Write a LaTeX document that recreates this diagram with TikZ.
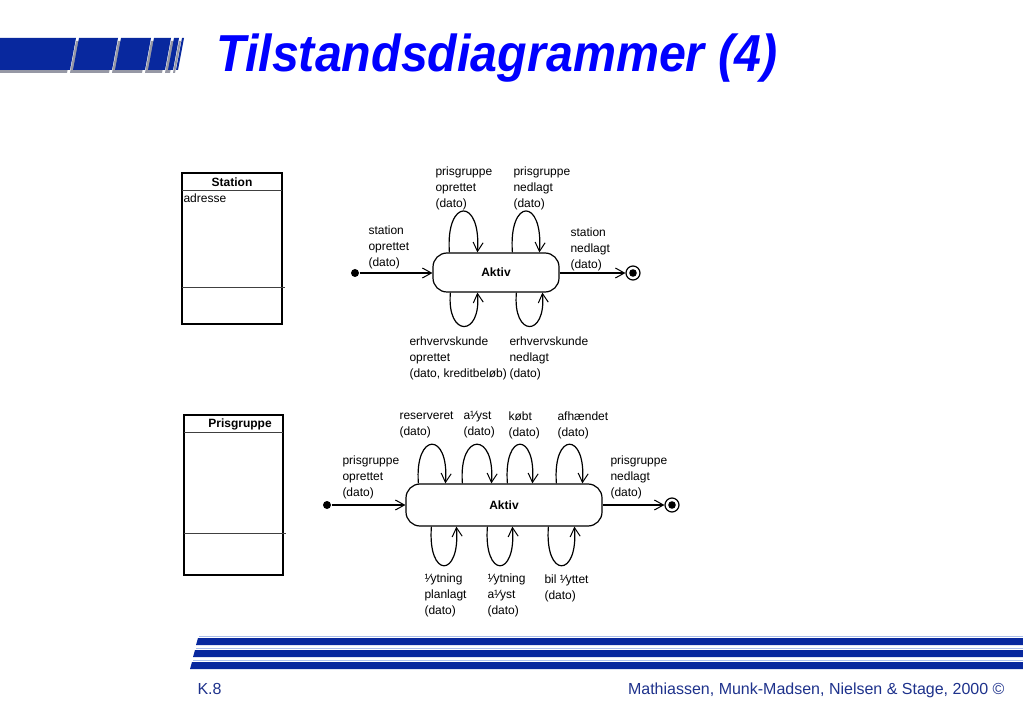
\documentclass[tikz,border=0pt]{standalone}
\usepackage{fontspec}
\setmainfont{Liberation Sans}
\usetikzlibrary{arrows.meta}
\definecolor{barblue}{RGB}{8,40,158}
\definecolor{barshadow}{RGB}{150,152,165}
\definecolor{barlight}{RGB}{170,190,235}
\definecolor{titleblue}{RGB}{0,0,255}
\definecolor{footblue}{RGB}{30,50,140}

\begin{document}
\begin{tikzpicture}[x=1pt, y=-1pt, line width=1pt]

\tikzstyle{every node} = [inner sep=0pt]
\tikzstyle{lbl} = [anchor=west, align=left, font=\fontsize{12}{16}\selectfont]
\tikzstyle{state} = [draw, rounded corners=14pt, line width=1.2pt, font=\fontsize{12}{14}\selectfont\bfseries]
\tikzstyle{initial} = [circle, fill, minimum size=8pt]
\tikzstyle{final} = [circle, draw, line width=1.2pt, minimum size=14pt, path picture={\fill (path picture bounding box.center) circle (3.8pt);}]
\tikzstyle{trans} = [-{Straight Barb[length=9pt, width=10pt, line width=1pt]}, line width=1.2pt]
\tikzstyle{classbox} = [draw, line width=1.6pt]
\tikzstyle{classline} = [draw, line width=0.9pt, black!75]

\fill[white] (0,0) rectangle (1023,708);
\useasboundingbox (0,0) rectangle (1023,708);

% title bars
\fill[barshadow] (-13,73) -- (67,73) -- (73,41) -- (-7,41) -- cycle;
\fill[barshadow] (70,73) -- (109,73) -- (115,41) -- (76,41) -- cycle;
\fill[barshadow] (112,73) -- (142,73) -- (148,41) -- (118,41) -- cycle;
\fill[barshadow] (145,73) -- (162,73) -- (168,41) -- (151,41) -- cycle;
\fill[barshadow] (165,73) -- (170,73) -- (176,41) -- (171,41) -- cycle;
\fill[barshadow] (173,73) -- (175,73) -- (181,41) -- (179,41) -- cycle;
\fill[barblue] (-10,70) -- (70,70) -- (76,38) -- (-4,38) -- cycle;
\fill[barblue] (73,70) -- (112,70) -- (118,38) -- (79,38) -- cycle;
\fill[barblue] (115,70) -- (145,70) -- (151,38) -- (121,38) -- cycle;
\fill[barblue] (148,70) -- (165,70) -- (171,38) -- (154,38) -- cycle;
\fill[barblue] (168,70) -- (173,70) -- (179,38) -- (174,38) -- cycle;
\fill[barblue] (176,70) -- (178,70) -- (184,38) -- (182,38) -- cycle;

\node[anchor=base west, text=titleblue, font=\fontsize{52}{60}\selectfont\bfseries\itshape, xscale=0.93] (title) at (216,72) {Tilstandsdiagrammer (4)};

% classes
\draw[classbox] (182,173) rectangle (282,324);
\draw[classline] (182,190) -- (282,190);
\draw[classline] (182,287) -- (285,287);
\node[font=\fontsize{12}{14}\selectfont\bfseries] (stn) at (232,182) {Station};
\node[anchor=west, font=\fontsize{12}{14}\selectfont] (adr) at (183,198) {adresse};

\draw[classbox] (184,415) rectangle (283,575);
\draw[classline] (184,432) -- (283,432);
\draw[classline] (184,533) -- (286,533);
\node[font=\fontsize{12}{14}\selectfont\bfseries] (pg) at (240,424) {Prisgruppe};

% station
\node[state, minimum width=126pt, minimum height=39pt] (akt1) at (496,272.5) {Aktiv};
\node[initial] (ini1) at (355,273) {};
\node[final] (fin1) at (633,273) {};

\draw[trans] (ini1) -- (ini1 -| akt1.west);
\draw[trans] (akt1.east |- fin1) -- (fin1);

\draw[trans] ([xshift=17pt]akt1.north west) .. controls +(-4,-55) and +(4,-55) .. ([xshift=45pt]akt1.north west);
\draw[trans] ([xshift=80pt]akt1.north west) .. controls +(-4,-55) and +(4,-55) .. ([xshift=107pt]akt1.north west);
\draw[trans] ([xshift=18pt]akt1.south west) .. controls +(-4,45) and +(4,45) .. ([xshift=45pt]akt1.south west);
\draw[trans] ([xshift=84pt]akt1.south west) .. controls +(-4,45) and +(4,45) .. ([xshift=110pt]akt1.south west);

\node[lbl] (l1) at (435,188) {prisgruppe\\oprettet\\(dato)};
\node[lbl] (l2) at (513,188) {prisgruppe\\nedlagt\\(dato)};
\node[lbl] (l3) at (368,247) {station\\oprettet\\(dato)};
\node[lbl] (l4) at (570,249) {station\\nedlagt\\(dato)};
\node[lbl] (l5) at (409,358) {erhvervskunde\\oprettet\\(dato, kreditbeløb)};
\node[lbl] (l6) at (509,358) {erhvervskunde\\nedlagt\\(dato)};

% prisgruppe
\node[state, minimum width=196pt, minimum height=42pt] (akt2) at (504,505) {Aktiv};
\node[initial] (ini2) at (327,505) {};
\node[final] (fin2) at (672,505) {};

\draw[trans] (ini2) -- (ini2 -| akt2.west);
\draw[trans] (akt2.east |- fin2) -- (fin2);

\draw[trans] ([xshift=13pt]akt2.north west) .. controls +(-4,-52) and +(4,-52) .. ([xshift=40pt]akt2.north west);
\draw[trans] ([xshift=57pt]akt2.north west) .. controls +(-4,-52) and +(4,-52) .. ([xshift=86pt]akt2.north west);
\draw[trans] ([xshift=102pt]akt2.north west) .. controls +(-4,-52) and +(4,-52) .. ([xshift=127pt]akt2.north west);
\draw[trans] ([xshift=151pt]akt2.north west) .. controls +(-4,-52) and +(4,-52) .. ([xshift=177pt]akt2.north west);
\draw[trans] ([xshift=26pt]akt2.south west) .. controls +(-4,52) and +(4,52) .. ([xshift=51pt]akt2.south west);
\draw[trans] ([xshift=82pt]akt2.south west) .. controls +(-4,52) and +(4,52) .. ([xshift=107pt]akt2.south west);
\draw[trans] ([xshift=143pt]akt2.south west) .. controls +(-4,52) and +(4,52) .. ([xshift=169pt]akt2.south west);

\node[lbl] (m1) at (399,425) {reserveret\\(dato)};
\node[lbl] (m2) at (463,425) {a¹⁄yst\\(dato)};
\node[lbl] (m3) at (508,425) {købt\\(dato)};
\node[lbl] (m4) at (557,425) {afhændet\\(dato)};
\node[lbl] (m5) at (342,477) {prisgruppe\\oprettet\\(dato)};
\node[lbl] (m6) at (610,477) {prisgruppe\\nedlagt\\(dato)};
\node[lbl] (m7) at (424,595) {¹⁄ytning\\planlagt\\(dato)};
\node[lbl] (m8) at (487,595) {¹⁄ytning\\a¹⁄yst\\(dato)};
\node[lbl] (m9) at (544,588) {bil ¹⁄yttet\\(dato)};

% footer
\draw[barlight, line width=1pt] (199,636.5) -- (1030,636.5);
\draw[barlight, line width=1pt] (196,648.5) -- (1030,648.5);
\draw[barlight, line width=1pt] (193,660.5) -- (1030,660.5);
\fill[barblue] (196,645) -- (198,638) -- (1030,638) -- (1030,645) -- cycle;
\fill[barblue] (193,657) -- (195,650) -- (1030,650) -- (1030,657) -- cycle;
\fill[barblue] (190,669) -- (192,662) -- (1030,662) -- (1030,669) -- cycle;

\node[anchor=base west, text=footblue, font=\fontsize{16}{19}\selectfont] (page) at (197,694) {K.8};
\node[anchor=base east, text=footblue, font=\fontsize{16}{19}\selectfont] (credit) at (1005,694) {Mathiassen, Munk-Madsen, Nielsen \& Stage, 2000 ©};
\end{tikzpicture}
\end{document}
